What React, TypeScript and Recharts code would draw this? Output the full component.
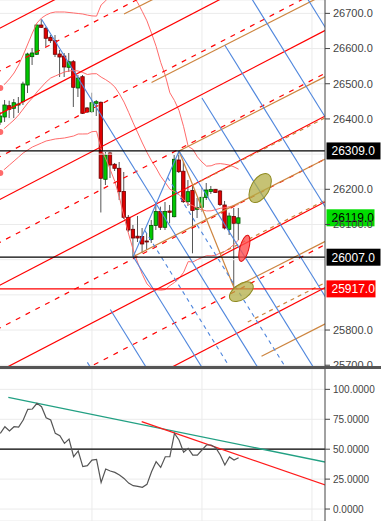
import React from 'react';
import {
  ComposedChart, Bar, Line, XAxis, YAxis, CartesianGrid, ReferenceLine, ReferenceDot,
} from 'recharts';

// ---------- price data (one candle per bar index) ----------
const opens = [26391, 26405.5, 26437.6, 26430.2, 26439.6, 26449, 26496.4, 26576.9, 26583.7, 26666.9, 26657.6, 26632, 26622.3, 26584.5, 26578.8, 26546.7, 26562.6, 26487.9, 26520, 26431.1, 26420.5, 26444.4, 26447.3, 26228.4, 26303.2, 26271.1, 26259.7, 26193.8, 26120.4, 26086.3, 26066.7, 26065.9, 26053.1, 26057.3, 26097.1, 26136.9, 26092, 26138.3, 26122.1, 26283.3, 26251.4, 26164.8, 26196.6, 26143.2, 26148.8, 26176.7, 26193.8, 26200, 26195.2, 26155.4, 26086.3, 26122.7, 26103.4];
const highs = [26420, 26453.8, 26451.8, 26456.6, 26462.3, 26505.8, 26588.2, 26601.6, 26669.8, 26683.1, 26662.1, 26638.5, 26638.5, 26595.9, 26587.4, 26587.4, 26567.5, 26524.8, 26524.8, 26433.9, 26474.5, 26453.8, 26449.5, 26306, 26306.9, 26274.8, 26277.6, 26249.2, 26127, 26098.5, 26124.1, 26090, 26075.8, 26112.8, 26161.1, 26150.6, 26163.9, 26155.4, 26297.5, 26309, 26277.6, 26226.4, 26215.1, 26175.3, 26203.7, 26217.9, 26209.4, 26200.9, 26198, 26166.8, 26133.5, 26146.9, 26146.9];
const lows = [26383, 26391.3, 26402.6, 26402.6, 26416.9, 26439.6, 26473.7, 26553.3, 26581.7, 26658.4, 26605.3, 26615.8, 26576, 26519.2, 26519.2, 26533.4, 26433.9, 26462.3, 26414, 26416.9, 26416.9, 26408.3, 26134.1, 26212.2, 26232.1, 26252, 26169.6, 26115.6, 26078.7, 26008.5, 26050.2, 26019, 26027.5, 26047.4, 26084.3, 26084.3, 26084.3, 26103.4, 26120.4, 26246.3, 26161.1, 26152.5, 26018.1, 26118.4, 26135.5, 26169.6, 26186.7, 26189.5, 26152.5, 26085.8, 26070.1, 25920, 26055.9];
const closes = [26408.3, 26439.6, 26427.4, 26446.1, 26442.4, 26499.3, 26584.5, 26587.4, 26666.9, 26660.4, 26629.2, 26622.3, 26583.7, 26576, 26547.6, 26562.6, 26489.9, 26516.3, 26416, 26419.7, 26446.1, 26449, 26231.3, 26297.5, 26269.1, 26259.7, 26193.2, 26120.4, 26084.3, 26061.6, 26061.6, 26044.6, 26051.7, 26097.1, 26136.9, 26092, 26136.9, 26134.6, 26285.3, 26250, 26164.8, 26193.2, 26139.8, 26147.7, 26177.3, 26198, 26199.4, 26190.9, 26156.8, 26090, 26124.1, 26103.4, 26119];

// ---------- bands ----------
const bbUpper = [26487.9, 26499.3, 26513.5, 26530.5, 26553.3, 26581.7, 26613.0, 26644.2, 26672.6, 26686.8, 26695.4, 26701.1, 26703.9, 26703.9, 26703.9, 26702.5, 26701.1, 26699.6, 26698.2, 26695.1, 26692.8, 26692.2, 26723.8, 26736.0, 26749.7, 26759.3, 26765.6, 26773.8, 26765.0, 26749.4, 26729.8, 26705.0, 26678.6, 26643.4, 26606.4, 26560.7, 26523.7, 26474.3, 26452.4, 26424.0, 26377.9, 26321.9, 26314.0, 26292.4, 26277.6, 26265.9, 26266.8, 26271.9, 26273.0, 26271.3, 26268.8, 26263.7, 26257.1];
const bbMiddle = [26362.9, 26374.2, 26385.6, 26397.0, 26411.2, 26428.2, 26445.3, 26459.5, 26476.5, 26490.7, 26505.0, 26516.3, 26522.0, 26527.7, 26533.4, 26536.2, 26537.6, 26536.2, 26532.0, 26526.3, 26528.3, 26528.5, 26518.9, 26511.5, 26502.7, 26490.7, 26471.1, 26447.8, 26418.8, 26388.7, 26360.3, 26331.6, 26304.9, 26281.0, 26260.5, 26237.0, 26219.3, 26200.3, 26193.8, 26185.2, 26171.0, 26158.2, 26153.7, 26146.3, 26141.7, 26138.6, 26138.9, 26142.3, 26146.0, 26147.4, 26150.6, 26153.4, 26156.8];
const bbLower = [26246.3, 26257.7, 26269.1, 26280.4, 26291.8, 26303.2, 26311.7, 26320.2, 26325.9, 26331.6, 26337.3, 26340.1, 26343.0, 26344.4, 26345.8, 26348.6, 26351.5, 26357.2, 26357.2, 26357.5, 26363.7, 26364.8, 26314.5, 26287.0, 26255.7, 26222.2, 26176.7, 26121.9, 26072.7, 26028.1, 25990.8, 25958.2, 25931.2, 25918.7, 25914.7, 25913.3, 25915.0, 25926.3, 25935.1, 25946.5, 25964.1, 25994.5, 25993.4, 26000.2, 26005.9, 26011.3, 26011.0, 26012.7, 26019.0, 26023.5, 26032.3, 26043.1, 26056.5];

// ---------- oscillator ----------
const oscillator = [63.2, 68.8, 65.2, 68.8, 68.5, 74.4, 83.3, 83.6, 88.3, 85.5, 76.3, 74.4, 63.2, 61.3, 54.9, 58.5, 43.7, 48.5, 35.4, 36.2, 40.9, 41.5, 22.3, 33.4, 31.8, 30.6, 28.4, 25.6, 21.7, 19.5, 18.9, 18.1, 20.6, 31.2, 39.6, 34.8, 43.7, 43.7, 63.2, 57.7, 47.4, 50.7, 45.1, 45.1, 49.3, 53.5, 53.5, 51.3, 45.1, 36.8, 43.5, 40.9, 42.9];

// ---------- ticks ----------
// labels hidden behind the price tags in the reference (26300, 26000, 25900) keep only their grid line
const priceTicks = [25700, 25800, 26100, 26200, 26400, 26500, 26600, 26700];
const priceGridOnly = [25900, 26000, 26300];
const oscTicks = [0, 25, 50, 75, 100];
const gridBars = [20, 44, 68];

// ---------- drawings (data coordinates: bar index, price) ----------
const redChannelSolid = [26658.6, 26415.1, 26171.6, 25928.1, 25684.6, 25441.1]; // price at bar 0
const redChannelDashed = [26536.9, 26293.4, 26049.9, 25806.4, 25562.9];
const redChannelSlope = 6.77; // price per bar

type Pt = [number, number];
const orangePivots: Pt[] = [[29, 26008.5], [39, 26309], [51, 25920]];
const orangeSolidLevels = [-3, -2, -1, 0, 1, 2];
const orangeDashedLevels = [-0.5, 0.5, 1.5];

const bluePivots: Pt[] = [[9, 26683.1], [29, 26008.5], [39, 26309]];
const blueSolidLevels = [-3, -2, -1, 0, 1, 2, 3, 4, 5];
const blueDashedLevels = [-0.5, 0.5];

const resistanceLevel = 26309;
const supportLevel = 26007;
const lowLevel = 25917;
const lastPrice = 26119;

const olivEllipses: Pt[] = [[56.7, 26203.7], [52.6, 25909]];
const redEllipse: Pt = [53.25, 26032.3];

const tealTrend: Pt[] = [[1.75, 93.3], [71, 39.2]];
const redTrend: Pt[] = [[30.85, 73.0], [71, 20.0]];

// ---------- helpers ----------
const X_DOMAIN: [number, number] = [-0.0655, 70.85];
const PRICE_DOMAIN: [number, number] = [25697.8, 26738];
const OSC_DOMAIN: [number, number] = [-10, 117];
const FONT = "'Liberation Sans', Arial, sans-serif";

const rows = closes.map((c, i) => ({
  i,
  open: opens[i],
  high: highs[i],
  low: lows[i],
  close: c,
  range: [lows[i], highs[i]],
  upper: bbUpper[i],
  mid: bbMiddle[i],
  lower: bbLower[i],
  osc: oscillator[i],
}));

function forkSegment(piv: Pt[], k: number, toBar: number) {
  const [A, B, C] = piv;
  const M: Pt = [(B[0] + C[0]) / 2, (B[1] + C[1]) / 2];
  const slope = (M[1] - A[1]) / (M[0] - A[0]);
  const start: Pt = k === 0 ? A : [M[0] + k * (C[0] - M[0]), M[1] + k * (C[1] - M[1])];
  const end: Pt = [toBar, start[1] + slope * (toBar - start[0])];
  return [{ x: start[0], y: start[1] }, { x: end[0], y: end[1] }];
}

function channelSegment(p0: number) {
  return [{ x: -3, y: p0 - 3 * redChannelSlope }, { x: 76, y: p0 + 76 * redChannelSlope }];
}

const Candle = (props: any) => {
  const { x, y, width, height, payload } = props;
  if (!payload || x == null) return null;
  const top = Math.min(y, y + height);
  const h = Math.abs(height);
  const span = payload.high - payload.low;
  const toY = (p: number) => top + (span === 0 ? 0 : ((payload.high - p) / span) * h);
  const up = payload.close >= payload.open;
  const cx = x + width / 2;
  const bTop = toY(Math.max(payload.open, payload.close));
  const bBot = toY(Math.min(payload.open, payload.close));
  return (
    <g>
      <line x1={cx} x2={cx} y1={top} y2={top + h} stroke="#555" strokeWidth={1} />
      <rect
        x={cx - 1.7}
        y={bTop}
        width={3.4}
        height={Math.max(1, bBot - bTop)}
        fill={up ? '#00c800' : '#e00000'}
        stroke={up ? '#005500' : '#6a0000'}
        strokeWidth={0.8}
      />
    </g>
  );
};

const PriceTag = (props: any) => {
  const { viewBox, tagText, tagBg, tagFg, tagWidth } = props;
  if (!viewBox) return null;
  const x = viewBox.x + viewBox.width + 1.5;
  const y = viewBox.y;
  return (
    <g>
      <rect x={x} y={y - 8.5} width={tagWidth} height={17} fill={tagBg} />
      <text x={x + 5} y={y} dy="0.36em" fontSize={12} fontFamily={FONT} fill={tagFg}>
        {tagText}
      </text>
    </g>
  );
};

const ellipseShape = (rx: number, ry: number, rot: number, fill: string, stroke: string, op: number) =>
  (p: any) => (
    <ellipse
      cx={p.cx}
      cy={p.cy}
      rx={rx}
      ry={ry}
      transform={`rotate(${rot} ${p.cx} ${p.cy})`}
      fill={fill}
      fillOpacity={op}
      stroke={stroke}
      strokeWidth={1}
    />
  );

export default function App() {
  return (
    <div style={{ position: 'absolute', left: 0, top: 0, width: 381, height: 521, background: '#fff', fontFamily: FONT }}>
      <ComposedChart width={381} height={366} data={rows} margin={{ top: 0, right: 0, bottom: 0, left: 0 }}>
        <CartesianGrid stroke="#ebebeb" vertical={false} />
        {priceGridOnly.map((g) => (
          <ReferenceLine key={`hg${g}`} y={g} stroke="#ebebeb" />
        ))}
        {gridBars.map((g) => (
          <ReferenceLine key={`vg${g}`} x={g} stroke="#ebebeb" />
        ))}
        <XAxis dataKey="i" type="number" domain={X_DOMAIN} hide allowDataOverflow />
        <YAxis
          orientation="right"
          type="number"
          domain={PRICE_DOMAIN}
          ticks={priceTicks}
          interval={0}
          allowDataOverflow
          width={56}
          tickFormatter={(v: number) => v.toFixed(1)}
          tick={{ fill: '#444', fontSize: 11, fontFamily: FONT }}
          axisLine={{ stroke: '#444' }}
          tickLine={{ stroke: '#444' }}
          tickSize={5}
          tickMargin={3}
        />
        <Line dataKey="upper" stroke="#ff6b6b" strokeWidth={1} dot={false} isAnimationActive={false} />
        <Line dataKey="mid" stroke="#ff6b6b" strokeWidth={1} dot={false} isAnimationActive={false} />
        <Line dataKey="lower" stroke="#ff6b6b" strokeWidth={1} dot={false} isAnimationActive={false} />

        {redChannelSolid.map((p, k) => (
          <ReferenceLine key={`rs${k}`} segment={channelSegment(p)} stroke="#ff0000" strokeWidth={1.2} ifOverflow="hidden" />
        ))}
        {redChannelDashed.map((p, k) => (
          <ReferenceLine key={`rd${k}`} segment={channelSegment(p)} stroke="#ff0000" strokeWidth={1.2} strokeDasharray="5 6" ifOverflow="hidden" />
        ))}

        {orangeSolidLevels.map((k) => (
          <ReferenceLine key={`os${k}`} segment={forkSegment(orangePivots, k, 76)} stroke="#cd853f" strokeWidth={1.2} ifOverflow="hidden" />
        ))}
        {orangeDashedLevels.map((k) => (
          <ReferenceLine key={`od${k}`} segment={forkSegment(orangePivots, k, 76)} stroke="#cd853f" strokeWidth={1.2} strokeDasharray="4 4" ifOverflow="hidden" />
        ))}
        <ReferenceLine
          segment={[{ x: orangePivots[1][0], y: orangePivots[1][1] }, { x: orangePivots[2][0], y: orangePivots[2][1] }]}
          stroke="#cd853f"
          strokeWidth={1.2}
          ifOverflow="hidden"
        />

        {blueSolidLevels.map((k) => (
          <ReferenceLine key={`bs${k}`} segment={forkSegment(bluePivots, k, 76)} stroke="#4f86dd" strokeWidth={1.1} ifOverflow="hidden" />
        ))}
        {blueDashedLevels.map((k) => (
          <ReferenceLine key={`bd${k}`} segment={forkSegment(bluePivots, k, 76)} stroke="#4f86dd" strokeWidth={1.1} strokeDasharray="4 4" ifOverflow="hidden" />
        ))}
        <ReferenceLine
          segment={[{ x: bluePivots[1][0], y: bluePivots[1][1] }, { x: bluePivots[2][0], y: bluePivots[2][1] }]}
          stroke="#4f86dd"
          strokeWidth={1.1}
          ifOverflow="hidden"
        />

        <ReferenceLine y={resistanceLevel} stroke="#000" strokeWidth={1.3}
          label={<PriceTag tagText={resistanceLevel.toFixed(1)} tagBg="#000" tagFg="#fff" tagWidth={54} />} />
        <ReferenceLine y={supportLevel} stroke="#000" strokeWidth={1.3}
          label={<PriceTag tagText={supportLevel.toFixed(1)} tagBg="#000" tagFg="#fff" tagWidth={54} />} />
        <ReferenceLine y={lowLevel} stroke="#ff0000" strokeWidth={1.3}
          label={<PriceTag tagText={lowLevel.toFixed(1)} tagBg="#ff0000" tagFg="#fff" tagWidth={49} />} />

        <Bar dataKey="range" barSize={4} isAnimationActive={false} shape={(p: any) => <Candle {...p} />} />

        <ReferenceDot x={olivEllipses[0][0]} y={olivEllipses[0][1]} r={10} ifOverflow="visible"
          shape={ellipseShape(9, 16, 30, '#b3ae45', '#8f8a20', 0.75)} />
        <ReferenceDot x={olivEllipses[1][0]} y={olivEllipses[1][1]} r={10} ifOverflow="visible"
          shape={ellipseShape(7.5, 13.5, 55, '#b3ae45', '#8f8a20', 0.75)} />
        <ReferenceDot x={redEllipse[0]} y={redEllipse[1]} r={6} ifOverflow="visible"
          shape={ellipseShape(4.5, 13.5, 15, '#ff4d4d', '#e01010', 0.8)} />

        <ReferenceLine y={lastPrice} stroke="none"
          label={<PriceTag tagText={lastPrice.toFixed(1)} tagBg="#00dd00" tagFg="#000" tagWidth={48} />} />
      </ComposedChart>

      <div style={{ height: 3, background: '#555' }} />

      <ComposedChart width={381} height={152} data={rows} margin={{ top: 0, right: 0, bottom: 0, left: 0 }}>
        <CartesianGrid stroke="#ebebeb" vertical={false} />
        {gridBars.map((g) => (
          <ReferenceLine key={`ovg${g}`} x={g} stroke="#ebebeb" />
        ))}
        <XAxis dataKey="i" type="number" domain={X_DOMAIN} hide allowDataOverflow />
        <YAxis
          orientation="right"
          type="number"
          domain={OSC_DOMAIN}
          ticks={oscTicks}
          interval={0}
          allowDataOverflow
          width={56}
          tickFormatter={(v: number) => v.toFixed(4)}
          tick={{ fill: '#444', fontSize: 10, fontFamily: FONT }}
          axisLine={{ stroke: '#444' }}
          tickLine={{ stroke: '#444' }}
          tickSize={5}
          tickMargin={3}
        />
        <ReferenceLine y={50} stroke="#000" strokeWidth={1.2} />
        <ReferenceLine segment={tealTrend.map(([x, y]) => ({ x, y }))} stroke="#22a083" strokeWidth={1.3} ifOverflow="hidden" />
        <ReferenceLine segment={redTrend.map(([x, y]) => ({ x, y }))} stroke="#ff1a1a" strokeWidth={1.3} ifOverflow="hidden" />
        <Line dataKey="osc" stroke="#555" strokeWidth={1.2} dot={false} isAnimationActive={false} />
      </ComposedChart>
    </div>
  );
}
